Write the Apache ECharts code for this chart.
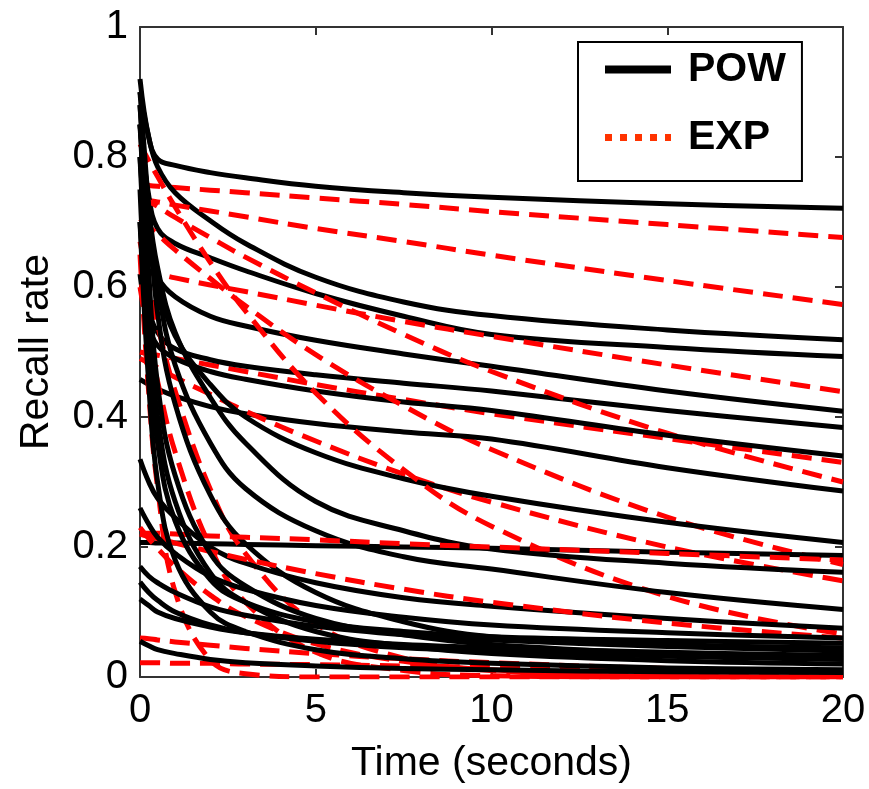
<!DOCTYPE html>
<html><head><meta charset="utf-8">
<script src="https://cdn.jsdelivr.net/npm/echarts@6/dist/echarts.min.js"></script>
<style>html,body{margin:0;padding:0;background:#fff}#c{width:869px;height:789px}</style>
</head><body><div id="c"></div><script>
const TIMES = [0, 0.25, 0.5, 1, 2, 3, 5, 7.5, 10, 15, 20];
const X_TICKS = [0, 5, 10, 15, 20];
const Y_TICKS = [0, 0.2, 0.4, 0.6, 0.8, 1];

// POW (black, solid) curves
const pow01 = [0.92, 0.83, 0.797, 0.787, 0.776, 0.768, 0.755, 0.745, 0.738, 0.728, 0.721];
const pow02 = [0.90, 0.83, 0.785, 0.745, 0.702, 0.667, 0.615, 0.577, 0.556, 0.534, 0.519];
const pow03 = [0.85, 0.74, 0.69, 0.667, 0.645, 0.625, 0.59, 0.555, 0.527, 0.507, 0.493];
const pow04 = [0.80, 0.66, 0.615, 0.585, 0.555, 0.54, 0.518, 0.497, 0.478, 0.44, 0.409];
const pow05 = [0.70, 0.57, 0.53, 0.505, 0.488, 0.478, 0.465, 0.452, 0.44, 0.41, 0.384];
const pow06 = [0.62, 0.54, 0.51, 0.49, 0.47, 0.458, 0.44, 0.423, 0.41, 0.372, 0.34];
const pow07 = [0.458, 0.45, 0.443, 0.432, 0.416, 0.405, 0.39, 0.377, 0.366, 0.322, 0.286];
const pow08 = [0.85, 0.70, 0.61, 0.525, 0.45, 0.40, 0.345, 0.305, 0.278, 0.238, 0.207];
const pow09 = [0.207, 0.207, 0.206, 0.206, 0.205, 0.204, 0.202, 0.2, 0.198, 0.192, 0.187];
const pow10 = [0.88, 0.72, 0.63, 0.53, 0.43, 0.36, 0.27, 0.225, 0.197, 0.175, 0.161];
const pow11 = [0.88, 0.70, 0.60, 0.48, 0.36, 0.29, 0.225, 0.185, 0.166, 0.13, 0.104];
const pow12 = [0.90, 0.72, 0.56, 0.42, 0.28, 0.205, 0.13, 0.085, 0.062, 0.05, 0.045];
const pow13 = [0.335, 0.30, 0.275, 0.245, 0.20, 0.175, 0.145, 0.122, 0.109, 0.09, 0.075];
const pow14 = [0.17, 0.155, 0.145, 0.13, 0.108, 0.095, 0.078, 0.065, 0.057, 0.047, 0.04];
const pow15 = [0.146, 0.13, 0.118, 0.10, 0.08, 0.068, 0.055, 0.045, 0.04, 0.032, 0.027];
const pow16 = [0.12, 0.11, 0.10, 0.09, 0.077, 0.068, 0.058, 0.05, 0.045, 0.038, 0.033];
const pow17 = [0.055, 0.048, 0.042, 0.036, 0.027, 0.022, 0.017, 0.013, 0.011, 0.008, 0.007];
const pow18 = [0.85, 0.62, 0.45, 0.31, 0.19, 0.14, 0.09, 0.065, 0.05, 0.036, 0.028];
const pow19 = [0.80, 0.55, 0.40, 0.27, 0.16, 0.115, 0.07, 0.048, 0.036, 0.025, 0.02];
const pow20 = [0.70, 0.45, 0.30, 0.18, 0.10, 0.07, 0.042, 0.028, 0.021, 0.014, 0.011];
const pow21 = [0.26, 0.235, 0.215, 0.19, 0.155, 0.135, 0.11, 0.092, 0.08, 0.068, 0.06];
const pow22 = [0.75, 0.50, 0.36, 0.24, 0.15, 0.115, 0.085, 0.07, 0.062, 0.056, 0.052];

// EXP (red, dashed) curves
const exp01 = [0.757, 0.756, 0.755, 0.753, 0.749, 0.745, 0.737, 0.727, 0.716, 0.696, 0.676];
const exp02 = [0.735, 0.733, 0.731, 0.726, 0.717, 0.708, 0.690, 0.670, 0.649, 0.610, 0.573];
const exp03 = [0.625, 0.622, 0.620, 0.614, 0.603, 0.593, 0.572, 0.547, 0.524, 0.480, 0.439];
const exp04 = [0.50, 0.497, 0.495, 0.490, 0.480, 0.470, 0.450, 0.427, 0.405, 0.367, 0.330];
const exp05 = [0.74, 0.732, 0.724, 0.707, 0.676, 0.646, 0.591, 0.527, 0.470, 0.375, 0.300];
const exp06 = [0.705, 0.693, 0.681, 0.657, 0.613, 0.571, 0.496, 0.417, 0.350, 0.246, 0.173];
const exp07 = [0.49, 0.483, 0.476, 0.461, 0.435, 0.409, 0.363, 0.312, 0.269, 0.200, 0.148];
const exp08 = [0.82, 0.794, 0.77, 0.723, 0.638, 0.563, 0.437, 0.319, 0.232, 0.124, 0.066];
const exp09 = [0.60, 0.522, 0.455, 0.346, 0.200, 0.115, 0.038, 0.010, 0.002, 0, 0];
const exp10 = [0.67, 0.603, 0.542, 0.44, 0.289, 0.190, 0.082, 0.029, 0.010, 0.001, 0];
const exp11 = [0.65, 0.436, 0.292, 0.131, 0.026, 0.005, 0, 0, 0, 0, 0];
const exp12 = [0.23, 0.213, 0.198, 0.170, 0.126, 0.093, 0.051, 0.024, 0.011, 0.003, 0.001];
const exp13 = [0.22, 0.216, 0.213, 0.206, 0.193, 0.181, 0.159, 0.135, 0.115, 0.083, 0.06];
const exp14 = [0.222, 0.221, 0.221, 0.220, 0.217, 0.215, 0.211, 0.205, 0.200, 0.190, 0.180];
const exp15 = [0.022, 0.022, 0.022, 0.021, 0.021, 0.02, 0.019, 0.017, 0.015, 0.012, 0.009];
const exp16 = [0.06, 0.059, 0.057, 0.054, 0.049, 0.044, 0.036, 0.028, 0.022, 0.013, 0.008];

const POW_CURVES = [pow01,pow02,pow03,pow04,pow05,pow06,pow07,pow08,pow09,pow10,pow11,pow12,pow13,pow14,pow15,pow16,pow17,pow18,pow19,pow20,pow21,pow22];
const EXP_CURVES = [exp01,exp02,exp03,exp04,exp05,exp06,exp07,exp08,exp09,exp10,exp11,exp12,exp13,exp14,exp15,exp16];

const FONT = "'Liberation Sans', Arial, Helvetica, sans-serif";
const AXIS_COLOR = '#333';

function pairs(vals){ return TIMES.map((t,i)=>[t, vals[i]]); }
function powSeries(vals){
  return {name:'POW', type:'line', data:pairs(vals), symbol:'none', smooth:0.4,
    lineStyle:{color:'#000', width:5, cap:'butt', join:'round'}, itemStyle:{color:'#000'}, silent:true, z:2};
}
function expSeries(vals){
  return {name:'EXP', type:'line', data:pairs(vals), symbol:'none', smooth:0.4,
    lineStyle:{color:'#ff0000', width:5, type:[20,10], cap:'butt', join:'round'}, itemStyle:{color:'#ff0000'}, silent:true, z:2};
}
const series = [];
const n = Math.max(POW_CURVES.length, EXP_CURVES.length);
for (let i=0;i<n;i++){
  if (POW_CURVES[i]) series.push(powSeries(POW_CURVES[i]));
  if (EXP_CURVES[i]) series.push(expSeries(EXP_CURVES[i]));
}

const tickStyle = {show:true, inside:true, length:8, lineStyle:{color:AXIS_COLOR, width:2}};
const lineStyleAx = {show:true, onZero:false, lineStyle:{color:AXIS_COLOR, width:2}};
const labelStyle = {color:'#000', fontSize:40, fontFamily:FONT};

// legend icons: corner specks fix the box to 66x40 so the mark keeps its true size
const BOX = 'M0,0h0.01v0.01h-0.01z M66,40h-0.01v-0.01h0.01z ';
const POW_ICON = 'path://' + BOX + 'M0,16h66v8h-66z';
const EXP_ICON = 'path://' + BOX + 'M0,16.5h7v7h-7z M15,16.5h7v7h-7z M30,16.5h7v7h-7z M45,16.5h7v7h-7z M60,16.5h6v7h-6z';

const option = {
  animation:false,
  backgroundColor:'#fff',
  grid:{left:140, right:26, top:27, bottom:111, containLabel:false},
  xAxis:[
    {type:'value', min:X_TICKS[0], max:X_TICKS[X_TICKS.length-1], interval:5, position:'bottom',
     axisLine:lineStyleAx, axisTick:tickStyle, splitLine:{show:false},
     axisLabel:Object.assign({margin:14}, labelStyle),
     name:'Time (seconds)', nameLocation:'middle', nameGap:66,
     nameTextStyle:{color:'#000', fontSize:41, fontFamily:FONT}},
    {type:'value', min:X_TICKS[0], max:X_TICKS[X_TICKS.length-1], interval:5, position:'top',
     axisLine:lineStyleAx, axisTick:tickStyle, splitLine:{show:false}, axisLabel:{show:false}}
  ],
  yAxis:[
    {type:'value', min:Y_TICKS[0], max:Y_TICKS[Y_TICKS.length-1], interval:0.2, position:'left',
     axisLine:lineStyleAx, axisTick:tickStyle, splitLine:{show:false},
     axisLabel:Object.assign({margin:12, formatter:v=>String(Math.round(v*10)/10)}, labelStyle),
     name:'Recall rate', nameLocation:'middle', nameGap:83, nameRotate:90,
     nameTextStyle:{color:'#000', fontSize:41, fontFamily:FONT}},
    {type:'value', min:Y_TICKS[0], max:Y_TICKS[Y_TICKS.length-1], interval:0.2, position:'right',
     axisLine:lineStyleAx, axisTick:tickStyle, splitLine:{show:false}, axisLabel:{show:false}}
  ],
  legend:{
    show:true, selectedMode:false, orient:'vertical', left:578, top:42,
    padding:[7,16,23,27], itemWidth:66, itemHeight:40, itemGap:27,
    backgroundColor:'#fff', borderColor:'#000', borderWidth:2,
    textStyle:{color:'#000', fontSize:41, fontWeight:'bold', fontFamily:FONT, lineHeight:40, padding:[0,0,0,12]},
    data:[
      {name:'POW', icon:POW_ICON, itemStyle:{color:'#000', borderWidth:0}},
      {name:'EXP', icon:EXP_ICON, itemStyle:{color:'#ff3300', borderWidth:0}}
    ]
  },
  series: series
};
const chart = echarts.init(document.getElementById('c'), null, {renderer:'canvas'});
chart.setOption(option);
</script></body></html>
